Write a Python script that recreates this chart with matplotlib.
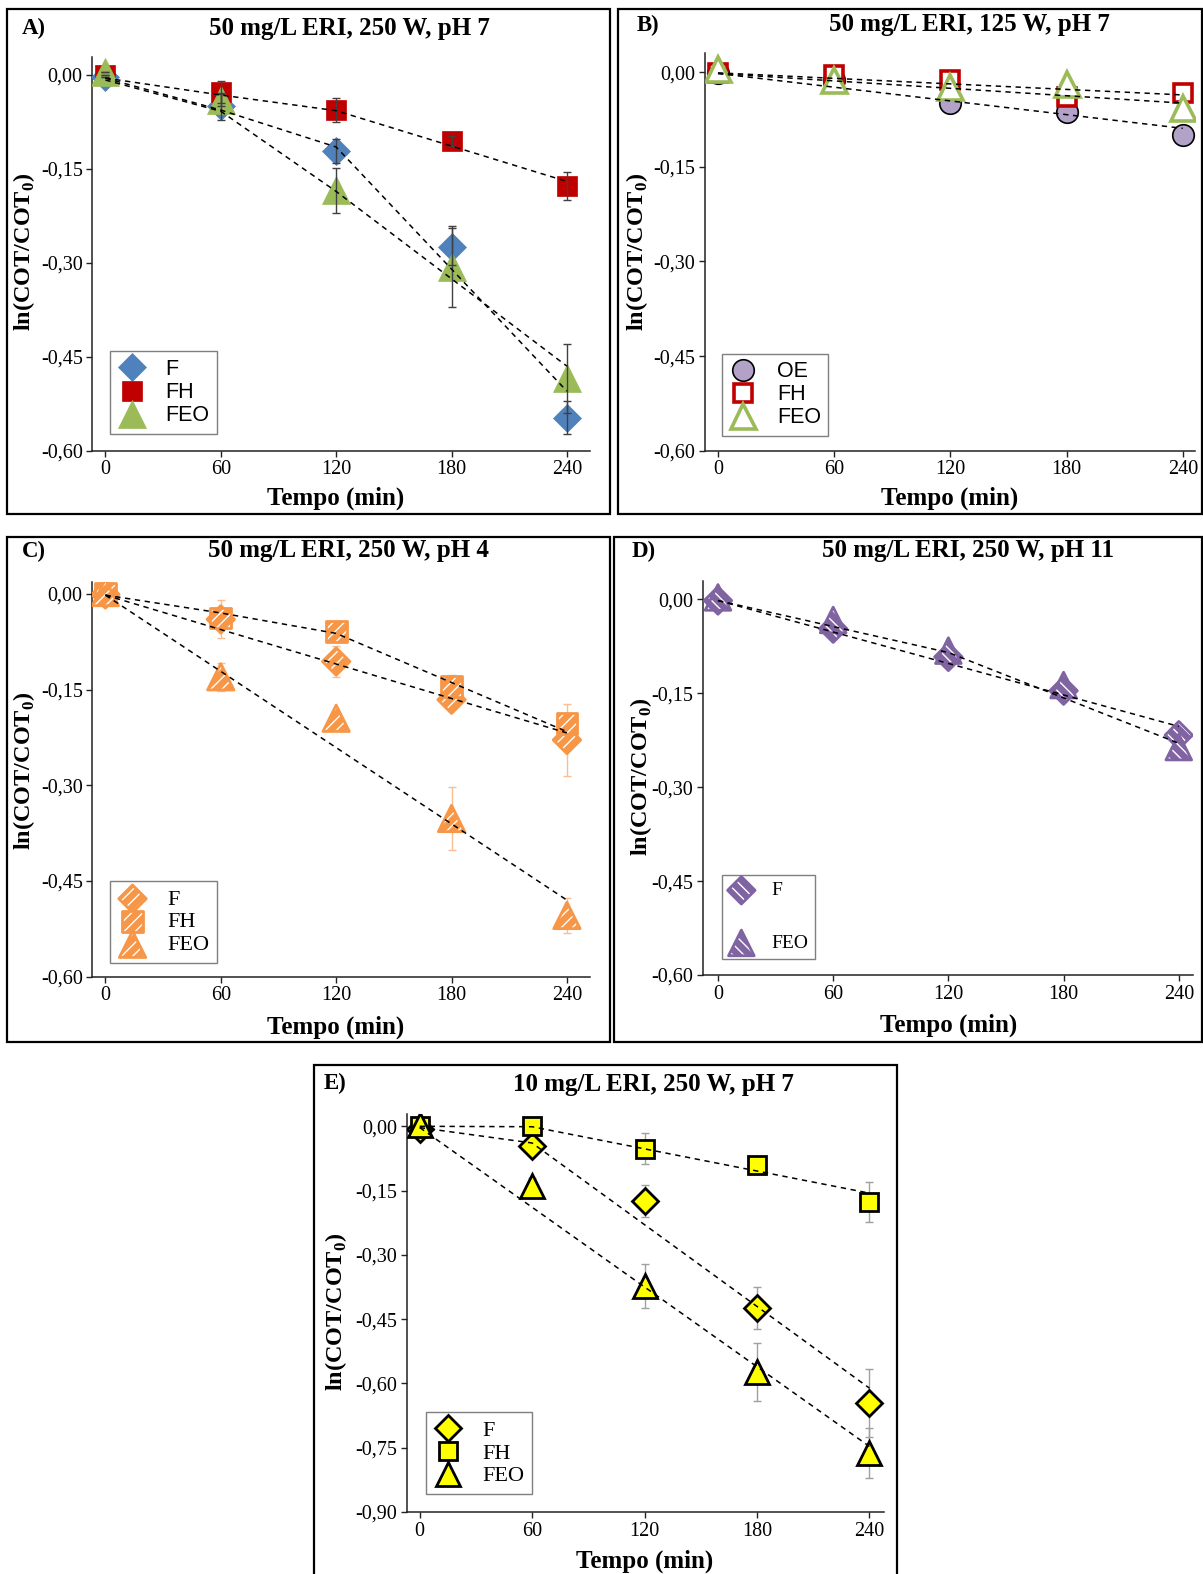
import matplotlib.pyplot as plt
from matplotlib.patches import Rectangle

plt.rcParams['font.family'] = ['Liberation Serif', 'DejaVu Serif']
plt.rcParams['mathtext.fontset'] = 'custom'
plt.rcParams['mathtext.bf'] = 'Liberation Serif:bold'
plt.rcParams['mathtext.rm'] = 'Liberation Serif:bold'
plt.rcParams['hatch.color'] = 'white'
plt.rcParams['hatch.linewidth'] = 1.0

tempo = [0, 60, 120, 180, 240]
yticks_abcd = [0.0, -0.15, -0.30, -0.45, -0.60]
yticks_e = [0.0, -0.15, -0.30, -0.45, -0.60, -0.75, -0.90]

# A) 50 mg/L ERI, 250 W, pH 7
A_F = [-0.003, -0.050, -0.122, -0.274, -0.547]
A_F_err = [0.0, 0.022, 0.019, 0.029, 0.027]
A_FH = [0.000, -0.027, -0.056, -0.105, -0.177]
A_FH_err = [0.0, 0.018, 0.019, 0.008, 0.022]
A_FEO = [0.004, -0.040, -0.184, -0.306, -0.484]
A_FEO_err = [0.0, 0.010, 0.036, 0.065, 0.055]
A_F_fit_t = [0, 60, 120, 240]
A_F_fit = [-0.005, -0.056, -0.115, -0.505]
A_FH_fit_t = [0, 60, 120, 240]
A_FH_fit = [-0.005, -0.032, -0.057, -0.170]
A_FEO_fit_t = [0, 60, 120, 240]
A_FEO_fit = [-0.008, -0.058, -0.186, -0.465]

# B) 50 mg/L ERI, 125 W, pH 7
B_OE = [-0.001, -0.012, -0.048, -0.063, -0.100]
B_OE_err = [0.0, 0.004, 0.005, 0.007, 0.005]
B_FH = [-0.001, -0.004, -0.013, -0.039, -0.033]
B_FH_err = [0.0, 0.003, 0.004, 0.006, 0.004]
B_FEO = [0.005, -0.013, -0.023, -0.019, -0.057]
B_FEO_err = [0.0, 0.003, 0.004, 0.004, 0.005]
B_fit_t = [0, 240]
B_OE_fit = [-0.002, -0.089]
B_FH_fit = [-0.001, -0.036]
B_FEO_fit = [-0.002, -0.049]

# C) 50 mg/L ERI, 250 W, pH 4
C_F = [-0.001, -0.040, -0.106, -0.166, -0.229]
C_F_err = [0.0, 0.030, 0.024, 0.010, 0.056]
C_FH = [0.000, -0.038, -0.059, -0.145, -0.203]
C_FH_err = [0.0, 0.010, 0.010, 0.018, 0.012]
C_FEO = [0.002, -0.130, -0.195, -0.352, -0.504]
C_FEO_err = [0.0, 0.022, 0.012, 0.050, 0.027]
C_F_fit_t = [0, 60, 240]
C_F_fit = [-0.002, -0.056, -0.218]
C_FH_fit_t = [0, 60, 120, 240]
C_FH_fit = [-0.002, -0.030, -0.062, -0.216]
C_FEO_fit_t = [0, 240]
C_FEO_fit = [-0.002, -0.480]

# D) 50 mg/L ERI, 250 W, pH 11
D_F = [-0.002, -0.047, -0.092, -0.146, -0.217]
D_F_err = [0.0, 0.008, 0.012, 0.010, 0.008]
D_FEO = [0.003, -0.033, -0.082, -0.137, -0.236]
D_FEO_err = [0.0, 0.008, 0.010, 0.010, 0.014]
D_F_fit_t = [0, 240]
D_F_fit = [-0.002, -0.203]
D_FEO_fit_t = [0, 120, 240]
D_FEO_fit = [-0.002, -0.085, -0.230]

# E) 10 mg/L ERI, 250 W, pH 7
E_F = [-0.006, -0.047, -0.175, -0.424, -0.646]
E_F_err = [0.0, 0.015, 0.037, 0.050, 0.080]
E_FH = [0.000, 0.000, -0.052, -0.091, -0.177]
E_FH_err = [0.0, 0.010, 0.036, 0.010, 0.047]
E_FEO = [0.004, -0.140, -0.373, -0.574, -0.763]
E_FEO_err = [0.0, 0.020, 0.051, 0.068, 0.058]
E_F_fit_t = [0, 60, 240]
E_F_fit = [-0.003, -0.039, -0.611]
E_FH_fit_t = [0, 60, 240]
E_FH_fit = [0.000, -0.001, -0.156]
E_FEO_fit_t = [0, 240]
E_FEO_fit = [-0.003, -0.747]

blue, red, green = '#4F81BD', '#C00000', '#9BBB59'
purple_fill, orange, violet, yellow = '#B3A2C7', '#F79646', '#8064A2', '#FFFF00'

W, H = 1203, 1574
fig = plt.figure(figsize=(W / 100, H / 100), dpi=100)


def fx(x):
    return x / W


def fy(y):
    return 1 - y / H


def fmt(v):
    s = f'{v:.2f}'.replace('.', ',')
    return '0,00' if v == 0 else s


def frame(x0, y0, x1, y1):
    fig.patches.append(Rectangle((fx(x0), fy(y1)), fx(x1) - fx(x0), fy(y0) - fy(y1),
                                 transform=fig.transFigure, fill=False, lw=1.6, ec='black'))


def make_axes(left, right, top, bottom, xlim, ylim, yticks):
    ax = fig.add_axes([fx(left), fy(bottom), fx(right) - fx(left), fy(top) - fy(bottom)])
    ax.set_xlim(*xlim)
    ax.set_ylim(*ylim)
    ax.set_xticks(tempo)
    ax.set_xticklabels([str(t) for t in tempo])
    ax.set_yticks(yticks)
    ax.set_yticklabels([fmt(v) for v in yticks])
    for s in ['top', 'right']:
        ax.spines[s].set_visible(False)
    for s in ['left', 'bottom']:
        ax.spines[s].set_linewidth(1.1)
        ax.spines[s].set_color('#222222')
    ax.tick_params(direction='out', length=4, width=1, labelsize=14.5, pad=3, color='#222222')
    ax.patch.set_alpha(0)
    return ax


def texts(letter, lxy, title, txy, xlxy, ylxy):
    fig.text(fx(lxy[0]), fy(lxy[1]), letter, ha='left', va='center', fontsize=16.5, fontweight='bold')
    fig.text(fx(txy[0]), fy(txy[1]), title, ha='center', va='center', fontsize=18, fontweight='bold')
    fig.text(fx(xlxy[0]), fy(xlxy[1]), 'Tempo (min)', ha='center', va='center',
             fontsize=18, fontweight='bold')
    fig.text(fx(ylxy[0]), fy(ylxy[1]), r'ln(COT/COT$_\mathbf{0}$)', ha='center', va='center',
             rotation=90, fontsize=17.5, fontweight='bold')


def fit_line(ax, t, y):
    ax.plot(t, y, color='black', lw=1.1, ls=(0, (3.5, 3)), zorder=6)


def legend(ax, handles, names, anchor, size, family, spacing=0.1):
    leg = ax.legend(handles, names, loc='lower left', bbox_to_anchor=anchor, borderaxespad=0,
                    fancybox=False, framealpha=1, edgecolor='#7F7F7F', handlelength=1.3,
                    handletextpad=0.9, borderpad=0.35, labelspacing=spacing,
                    prop={'family': family, 'size': size})
    leg.get_frame().set_linewidth(1.0)
    leg.set_zorder(10)


def hatched(ax, y, marker, size, color, hatch):
    s1 = ax.scatter(tempo, y, s=size ** 2, marker=marker, facecolors=color, edgecolors='white',
                    linewidths=0, hatch=hatch, zorder=3)
    s2 = ax.scatter(tempo, y, s=size ** 2, marker=marker, facecolors='none', edgecolors=color,
                    linewidths=2.0, zorder=3)
    return (s1, s2)


# ---- Panel A
frame(7, 9, 610, 514)
ax = make_axes(92.4, 590, 57, 450.7, (-6.75, 252), (-0.6, 0.0287), yticks_abcd)
hF = ax.plot(tempo, A_F, 'D', ms=14.5, color=blue, mec=blue, mew=0.5, zorder=3)[0]
hFH = ax.plot(tempo, A_FH, 's', ms=15, color=red, mec=red, mew=0.5, zorder=3)[0]
hFEO = ax.plot(tempo, A_FEO, '^', ms=20, color=green, mec=green, mew=0.5, zorder=3)[0]
for y, e in [(A_F, A_F_err), (A_FH, A_FH_err), (A_FEO, A_FEO_err)]:
    ax.errorbar(tempo, y, yerr=e, fmt='none', ecolor='#404040', elinewidth=1, capsize=3, zorder=4)
fit_line(ax, A_F_fit_t, A_F_fit)
fit_line(ax, A_FH_fit_t, A_FH_fit)
fit_line(ax, A_FEO_fit_t, A_FEO_fit)
legend(ax, [hF, hFH, hFEO], ['F', 'FH', 'FEO'], (0.036, 0.043), 15.5, 'Liberation Sans')
texts('A)', (22, 28), '50 mg/L ERI, 250 W, pH 7', (349, 28), (336, 498), (24, 252))

# ---- Panel B
frame(617.5, 9, 1202, 514)
ax = make_axes(704.8, 1195, 53.3, 450.7, (-6.8, 246.3), (-0.6, 0.030), yticks_abcd)
for y, e in [(B_OE, B_OE_err), (B_FH, B_FH_err), (B_FEO, B_FEO_err)]:
    ax.errorbar(tempo, y, yerr=e, fmt='none', ecolor='#404040', elinewidth=1, capsize=3, zorder=2)
hOE = ax.plot(tempo, B_OE, 'o', ms=15.5, color=purple_fill, mec='black', mew=1.2, zorder=3)[0]
hFH = ax.plot(tempo, B_FH, 's', ms=13.5, mfc='white', mec=red, mew=2.6, zorder=3)[0]
hFEO = ax.plot(tempo, B_FEO, '^', ms=18, mfc='white', mec=green, mew=2.6, zorder=3)[0]
fit_line(ax, B_fit_t, B_OE_fit)
fit_line(ax, B_fit_t, B_FH_fit)
fit_line(ax, B_fit_t, B_FEO_fit)
legend(ax, [hOE, hFH, hFEO], ['OE', 'FH', 'FEO'], (0.035, 0.037), 15.5, 'Liberation Sans')
texts('B)', (637, 25), '50 mg/L ERI, 125 W, pH 7', (969, 25), (950, 498), (637, 252))

# ---- Panel C
frame(7, 537, 610, 1042)
ax = make_axes(92.4, 590, 581.7, 976.7, (-6.75, 252), (-0.6, 0.019), yticks_abcd)
for y, e in [(C_F, C_F_err), (C_FH, C_FH_err), (C_FEO, C_FEO_err)]:
    ax.errorbar(tempo, y, yerr=e, fmt='none', ecolor='#F9BE94', elinewidth=1, capsize=3, zorder=2)
hF = hatched(ax, C_F, 'D', 14, orange, '///')
hFH = hatched(ax, C_FH, 's', 15, orange, '///')
hFEO = hatched(ax, C_FEO, '^', 19, orange, '///')
fit_line(ax, C_F_fit_t, C_F_fit)
fit_line(ax, C_FH_fit_t, C_FH_fit)
fit_line(ax, C_FEO_fit_t, C_FEO_fit)
legend(ax, [hF, hFH, hFEO], ['F', 'FH', 'FEO'], (0.036, 0.035), 16, 'Liberation Serif')
texts('C)', (22, 551), '50 mg/L ERI, 250 W, pH 4', (349, 551), (336, 1027), (24, 771))

# ---- Panel D
frame(613.5, 537, 1202, 1042)
ax = make_axes(702.8, 1192.8, 580.7, 975, (-7.9, 247.3), (-0.6, 0.0297), yticks_abcd)
for y, e in [(D_F, D_F_err), (D_FEO, D_FEO_err)]:
    ax.errorbar(tempo, y, yerr=e, fmt='none', ecolor='#A996C4', elinewidth=1, capsize=3, zorder=2)
hF = hatched(ax, D_F, 'D', 14, violet, '\\\\\\')
hFEO = hatched(ax, D_FEO, '^', 18.5, violet, '\\\\\\')
fit_line(ax, D_F_fit_t, D_F_fit)
fit_line(ax, D_FEO_fit_t, D_FEO_fit)
legend(ax, [hF, hFEO], ['F', 'FEO'], (0.039, 0.041), 14, 'Liberation Serif', spacing=1.8)
texts('D)', (632, 551), '50 mg/L ERI, 250 W, pH 11', (968, 551), (949, 1025), (641, 777))

# ---- Panel E
frame(314, 1065, 896.6, 1600)
ax = make_axes(406.6, 883.5, 1114, 1512, (-7.0, 247.5), (-0.9, 0.0287), yticks_e)
for y, e in [(E_F, E_F_err), (E_FH, E_FH_err), (E_FEO, E_FEO_err)]:
    ax.errorbar(tempo, y, yerr=e, fmt='none', ecolor='#A0A0A0', elinewidth=1, capsize=3, zorder=2)
hF = ax.plot(tempo, E_F, 'D', ms=13, mfc=yellow, mec='black', mew=2, zorder=3)[0]
hFH = ax.plot(tempo, E_FH, 's', ms=12.5, mfc=yellow, mec='black', mew=2, zorder=3)[0]
hFEO = ax.plot(tempo, E_FEO, '^', ms=17.5, mfc=yellow, mec='black', mew=2, zorder=3)[0]
fit_line(ax, E_F_fit_t, E_F_fit)
fit_line(ax, E_FH_fit_t, E_FH_fit)
fit_line(ax, E_FEO_fit_t, E_FEO_fit)
legend(ax, [hF, hFH, hFEO], ['F', 'FH', 'FEO'], (0.040, 0.045), 16, 'Liberation Serif')
texts('E)', (324, 1083), '10 mg/L ERI, 250 W, pH 7', (653, 1084), (645, 1561), (336, 1312))

fig.savefig('out.png', dpi=100)
